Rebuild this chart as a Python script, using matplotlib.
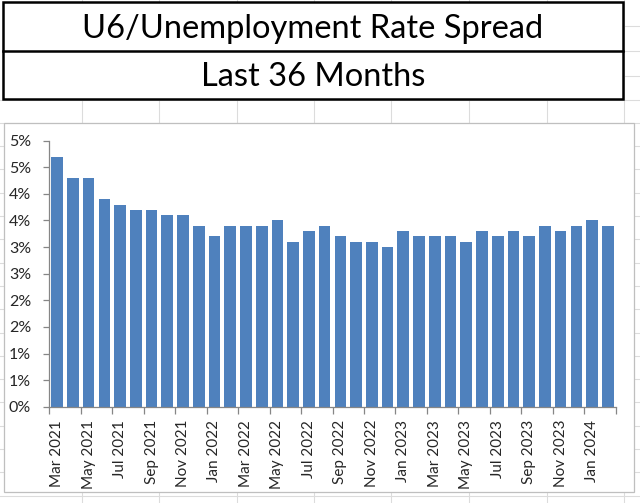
import numpy as np
import matplotlib
matplotlib.use("Agg")
import matplotlib.pyplot as plt
import matplotlib.patches as patches
from matplotlib.lines import Line2D

# U6 minus headline unemployment rate, percentage points
months = [
    'Mar 2021', 'Apr 2021', 'May 2021', 'Jun 2021', 'Jul 2021', 'Aug 2021',
    'Sep 2021', 'Oct 2021', 'Nov 2021', 'Dec 2021', 'Jan 2022', 'Feb 2022',
    'Mar 2022', 'Apr 2022', 'May 2022', 'Jun 2022', 'Jul 2022', 'Aug 2022',
    'Sep 2022', 'Oct 2022', 'Nov 2022', 'Dec 2022', 'Jan 2023', 'Feb 2023',
    'Mar 2023', 'Apr 2023', 'May 2023', 'Jun 2023', 'Jul 2023', 'Aug 2023',
    'Sep 2023', 'Oct 2023', 'Nov 2023', 'Dec 2023', 'Jan 2024', 'Feb 2024',
]
spread = [
    4.7, 4.3, 4.3, 3.9, 3.8, 3.7, 3.7, 3.6, 3.6, 3.4, 3.2, 3.4,
    3.4, 3.4, 3.5, 3.1, 3.3, 3.4, 3.2, 3.1, 3.1, 3.0, 3.3, 3.2,
    3.2, 3.2, 3.1, 3.3, 3.2, 3.3, 3.2, 3.4, 3.3, 3.4, 3.5, 3.4,
]
ytick_values = [0, 0.5, 1, 1.5, 2, 2.5, 3, 3.5, 4, 4.5, 5]
ytick_labels = ['0%', '1%', '1%', '2%', '2%', '3%', '3%', '4%', '4%', '5%', '5%']

title = 'U6/Unemployment Rate Spread'
subtitle = 'Last 36 Months'

W, H = 640, 503
plt.rcParams['font.family'] = ['Lato', 'DejaVu Sans']

fig = plt.figure(figsize=(W / 100, H / 100), dpi=100)
fig.patch.set_facecolor('white')


def px(x, y):
    # pixel coords (from top-left) -> figure fraction
    return x / W, 1 - y / H


# spreadsheet cell grid in the background
cellcolor = '#dcdcdc'
for cx in [82, 159, 237, 314, 391, 469, 547, 624]:
    fig.add_artist(Line2D([cx / W, cx / W], [0, 1], color=cellcolor, lw=0.8, zorder=0))
for cy in np.arange(99.5, H, 23.3):
    fig.add_artist(Line2D([0, 1], [1 - cy / H, 1 - cy / H], color=cellcolor, lw=0.8, zorder=0))
for cy in [26, 50.5, 76]:
    fig.add_artist(Line2D([624 / W, 1], [1 - cy / H, 1 - cy / H], color=cellcolor, lw=0.8, zorder=0))

# title box (two merged rows)
x0, y0 = px(3, 99)
x1, y1 = px(623, 2)
fig.add_artist(patches.Rectangle((x0, y0), x1 - x0, y1 - y0, transform=fig.transFigure,
                                 facecolor='white', edgecolor='black', lw=1.8, zorder=1))
fig.add_artist(Line2D([x0, x1], [1 - 50.5 / H] * 2, color='black', lw=1.8, zorder=2))
fig.text(313 / W, 1 - 29 / H, title, ha='center', va='center', fontsize=23.5, color='black', zorder=3)
fig.text(313 / W, 1 - 77 / H, subtitle, ha='center', va='center', fontsize=23.5, color='black', zorder=3)

# chart area
cx0, cy0 = px(4, 492)
cx1, cy1 = px(634, 123)
fig.add_artist(patches.Rectangle((cx0, cy0), cx1 - cx0, cy1 - cy0, transform=fig.transFigure,
                                 facecolor='white', edgecolor='#bfbfbf', lw=0.9, zorder=1))

ax = fig.add_axes([49.3 / W, 1 - 406.7 / H, 566.4 / W, 266 / H], zorder=5)
ax.patch.set_alpha(0)

x = np.arange(len(spread))
ax.bar(x, spread, width=0.74, color='#4f81bd', zorder=2)

ax.set_xlim(-0.5, len(spread) - 0.5)
ax.set_ylim(0, 5)

ax.set_yticks(ytick_values)
ax.set_yticklabels(ytick_labels)

# tick marks on category boundaries every 2 months, labels on bar centres
ax.set_xticks(np.arange(-0.5, len(spread), 2))
ax.set_xticklabels([])
ax.set_xticks(x[::2], minor=True)
ax.set_xticklabels(months[::2], minor=True, rotation=90)

axcolor = '#868686'
for side in ['top', 'right']:
    ax.spines[side].set_visible(False)
for side in ['left', 'bottom']:
    ax.spines[side].set_color(axcolor)
    ax.spines[side].set_linewidth(0.9)

textcolor = '#262626'
ax.tick_params(axis='y', which='major', length=4, width=0.9, color=axcolor,
               labelsize=11.5, labelcolor=textcolor, pad=9)
ax.tick_params(axis='x', which='major', length=5, width=0.9, color=axcolor)
ax.tick_params(axis='x', which='minor', length=0, labelsize=11,
               labelcolor=textcolor, pad=9.5)

fig.savefig('out.png', dpi=100, facecolor='white')
